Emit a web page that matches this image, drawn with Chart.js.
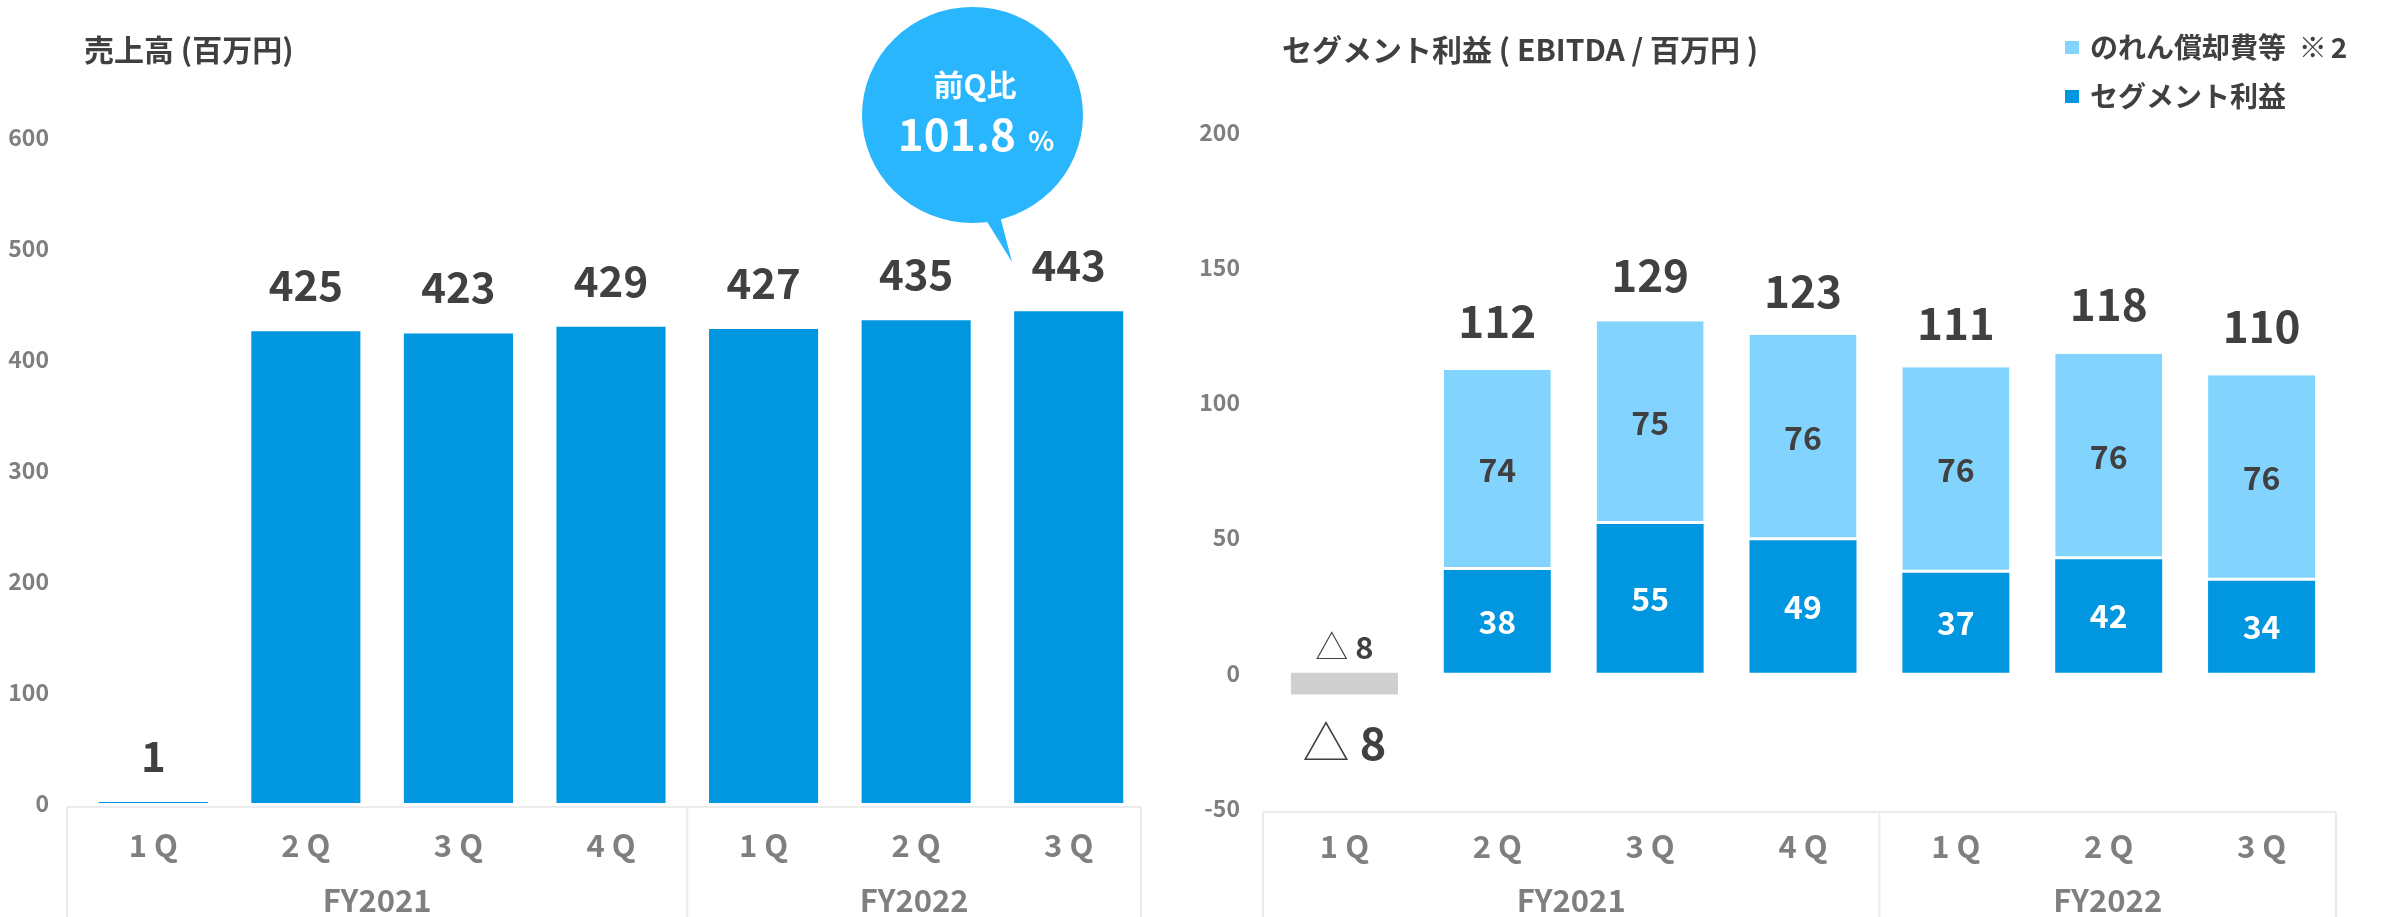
<!DOCTYPE html>
<html>
<head>
<meta charset="utf-8">
<script src="https://cdn.jsdelivr.net/npm/chart.js@4.4.0/dist/chart.umd.min.js"></script>
<style>
  html, body { margin: 0; padding: 0; background: #fff; }
  #wrap { position: relative; width: 2384px; height: 917px; }
  .box { position: absolute; top: 0; width: 1192px; height: 917px; }
</style>
</head>
<body>
<div id="wrap">
  <div class="box" style="left:0"><canvas id="salesChart" width="1192" height="917"></canvas></div>
  <div class="box" style="left:1192px"><canvas id="profitChart" width="1192" height="917"></canvas></div>
</div>
<script>
// data
const quarters = ["1 Q", "2 Q", "3 Q", "4 Q", "1 Q", "2 Q", "3 Q"];
const fiscalYears = ["FY2021", "FY2022"];
const yearSpans = [4, 3];
const sales = [1, 425, 423, 429, 427, 435, 443];
const segmentProfit = [-8, 38, 55, 49, 37, 42, 34];
const amortization = [null, 74, 75, 76, 76, 76, 76];
const ebitdaTotal = [-8, 112, 129, 123, 111, 118, 110];
const salesTicks = [0, 100, 200, 300, 400, 500, 600];
const profitTicks = [-50, 0, 50, 100, 150, 200];

const FONT = "'Noto Sans CJK JP', 'Noto Sans', sans-serif";
const DARK = "#404040";
const GRAY = "#7f7f7f";
const BLUE = "#0096e0";
const LIGHT = "#83d3ff";
const NEG = "#d0cfcf";

Chart.defaults.font.family = FONT;

function font(size, weight) {
  return (weight || "bold") + " " + size + "px " + FONT;
}

// negative values are written with a triangle, e.g. "△ 8"
function drawValue(ctx, v, x, y, size, color) {
  ctx.save();
  ctx.fillStyle = color;
  ctx.textBaseline = "middle";
  if (v < 0) {
    const tri = "△";
    const num = " " + Math.abs(v);
    ctx.font = font(Math.round(size * 1.05), "300");
    const w1 = ctx.measureText(tri).width;
    ctx.font = font(size);
    const w2 = ctx.measureText(num).width;
    let sx = x - (w1 + w2) / 2;
    ctx.textAlign = "left";
    ctx.font = font(Math.round(size * 1.05), "300");
    ctx.fillText(tri, sx, y);
    ctx.font = font(size);
    ctx.fillText(num, sx + w1, y);
  } else {
    ctx.font = font(size);
    ctx.textAlign = "center";
    ctx.fillText(String(v), x, y);
  }
  ctx.restore();
}

// box under the x axis with the fiscal year names
function drawYearFrame(chart, leftPad, rightPad) {
  const { ctx, chartArea } = chart;
  const x = chart.scales.x;
  const pitch = x.getPixelForValue(1) - x.getPixelForValue(0);
  const top = chartArea.bottom + 4;
  const bottom = chart.height;
  const edges = [x.getPixelForValue(0) - pitch / 2 - leftPad];
  let idx = 0;
  yearSpans.forEach((n, k) => {
    idx += n;
    const last = k === yearSpans.length - 1;
    edges.push(x.getPixelForValue(idx - 1) + pitch / 2 - (last ? rightPad : 0));
  });
  ctx.save();
  ctx.strokeStyle = "#ebebeb";
  ctx.lineWidth = 2;
  ctx.beginPath();
  ctx.moveTo(edges[0], top);
  ctx.lineTo(edges[edges.length - 1], top);
  edges.forEach(e => {
    ctx.moveTo(e, top);
    ctx.lineTo(e, bottom);
  });
  ctx.stroke();
  ctx.fillStyle = GRAY;
  ctx.font = font(31);
  ctx.textAlign = "center";
  ctx.textBaseline = "middle";
  fiscalYears.forEach((fy, k) => {
    ctx.fillText(fy, (edges[k] + edges[k + 1]) / 2, 900);
  });
  ctx.restore();
}

function drawTitle(ctx, text, x, y) {
  ctx.save();
  ctx.fillStyle = DARK;
  ctx.font = font(30);
  ctx.textAlign = "left";
  ctx.textBaseline = "middle";
  ctx.fillText(text, x, y);
  ctx.restore();
}

const salesPlugin = {
  id: "salesPlugin",
  afterDatasetsDraw(chart) {
    const { ctx } = chart;
    const meta = chart.getDatasetMeta(0);
    meta.data.forEach((bar, i) => {
      drawValue(ctx, sales[i], bar.x, bar.y - 46, 42, DARK);
    });
    drawYearFrame(chart, 10, 4);
    drawTitle(ctx, "売上高 (百万円)", 84, 50);

    // speech bubble
    ctx.save();
    ctx.fillStyle = "#29b6fd";
    ctx.beginPath();
    ctx.ellipse(972.5, 115, 110.5, 108, 0, 0, Math.PI * 2);
    ctx.fill();
    ctx.beginPath();
    ctx.moveTo(981, 212);
    ctx.lineTo(999, 212);
    ctx.lineTo(1012, 262);
    ctx.closePath();
    ctx.fill();
    ctx.fillStyle = "#fff";
    ctx.textBaseline = "middle";
    ctx.textAlign = "center";
    ctx.font = font(30);
    ctx.fillText("前Q比", 975, 85);
    ctx.font = font(44);
    const w1 = ctx.measureText("101.8").width;
    ctx.font = font(27);
    const w2 = ctx.measureText("  %").width;
    const sx = 976 - (w1 + w2) / 2;
    ctx.textAlign = "left";
    ctx.font = font(44);
    ctx.fillText("101.8", sx, 134);
    ctx.font = font(27);
    ctx.fillText("  %", sx + w1, 141);
    ctx.restore();
  }
};

const profitPlugin = {
  id: "profitPlugin",
  afterDatasetsDraw(chart) {
    const { ctx } = chart;
    const y = chart.scales.y;
    const segMeta = chart.getDatasetMeta(0);
    const amMeta = chart.getDatasetMeta(1);
    segMeta.data.forEach((bar, i) => {
      const v = segmentProfit[i];
      if (v < 0) {
        drawValue(ctx, v, bar.x, y.getPixelForValue(0) - 26, 31, DARK);
      } else {
        drawValue(ctx, v, bar.x, (bar.y + bar.base) / 2, 32, "#fff");
      }
    });
    amMeta.data.forEach((bar, i) => {
      if (amortization[i] == null) return;
      drawValue(ctx, amortization[i], bar.x, (bar.y + bar.base) / 2, 32, DARK);
    });
    ebitdaTotal.forEach((t, i) => {
      const bx = segMeta.data[i].x;
      const py = y.getPixelForValue(t);
      if (t < 0) drawValue(ctx, t, bx, py + 48, 45, DARK);
      else drawValue(ctx, t, bx, py - 49, 44, DARK);
    });
    drawYearFrame(chart, 5, 2);
    drawTitle(ctx, "セグメント利益 ( EBITDA / 百万円 )", 90, 50);

    // legend, light series first
    const items = [chart.data.datasets[1], chart.data.datasets[0]];
    ctx.save();
    ctx.textBaseline = "middle";
    ctx.textAlign = "left";
    items.forEach((ds, k) => {
      const cy = 47 + k * 49;
      ctx.fillStyle = ds.legendColor;
      ctx.fillRect(873, cy - 6, 14, 13);
      ctx.fillStyle = DARK;
      const parts = ds.label.split("※");
      ctx.font = font(28);
      ctx.fillText(parts[0], 898, cy);
      if (parts.length > 1) {
        let px = 898 + ctx.measureText(parts[0] + " ").width;
        ctx.font = font(28, "300");
        ctx.fillText("※", px, cy);
        px += ctx.measureText("※").width + 4;
        ctx.font = font(28);
        ctx.fillText(parts[1], px, cy);
      }
    });
    ctx.restore();
  }
};

function yAxis(ticks, width, pad) {
  return {
    min: ticks[0],
    max: ticks[ticks.length - 1],
    grid: { display: false, drawTicks: false },
    border: { display: false },
    ticks: {
      stepSize: ticks[1] - ticks[0],
      padding: pad,
      color: GRAY,
      font: { size: 23, weight: "bold" }
    },
    afterFit(scale) { scale.width = width; }
  };
}

function xAxis(height, pad, stacked) {
  return {
    stacked: stacked,
    grid: { display: false, drawTicks: false },
    border: { display: false },
    ticks: {
      padding: pad,
      color: GRAY,
      font: { size: 31, weight: "bold" },
      maxRotation: 0,
      autoSkip: false
    },
    afterFit(scale) { scale.height = height; }
  };
}

new Chart(document.getElementById("salesChart"), {
  type: "bar",
  data: {
    labels: quarters,
    datasets: [{
      label: "売上高",
      data: sales,
      backgroundColor: BLUE,
      categoryPercentage: 1,
      barPercentage: 0.715
    }]
  },
  options: {
    responsive: false,
    animation: false,
    layout: { padding: { top: 137, right: 47, left: 0, bottom: 0 } },
    plugins: { legend: { display: false }, tooltip: { enabled: false } },
    scales: {
      x: xAxis(114, 24, false),
      y: yAxis(salesTicks, 77, 28)
    }
  },
  plugins: [salesPlugin]
});

new Chart(document.getElementById("profitChart"), {
  type: "bar",
  data: {
    labels: quarters,
    datasets: [{
      label: "セグメント利益",
      data: segmentProfit,
      backgroundColor: segmentProfit.map(v => v < 0 ? NEG : BLUE),
      legendColor: BLUE,
      categoryPercentage: 1,
      barPercentage: 0.70
    }, {
      label: "のれん償却費等 ※2",
      data: amortization,
      backgroundColor: LIGHT,
      legendColor: LIGHT,
      borderColor: "#fff",
      borderWidth: { top: 0, left: 0, right: 0, bottom: 3 },
      borderSkipped: false,
      categoryPercentage: 1,
      barPercentage: 0.70
    }]
  },
  options: {
    responsive: false,
    animation: false,
    layout: { padding: { top: 132, right: 46, left: 0, bottom: 0 } },
    plugins: { legend: { display: false }, tooltip: { enabled: false } },
    scales: {
      x: xAxis(109, 20, true),
      y: Object.assign(yAxis(profitTicks, 76, 28), { stacked: true })
    }
  },
  plugins: [profitPlugin]
});
</script>
</body>
</html>
